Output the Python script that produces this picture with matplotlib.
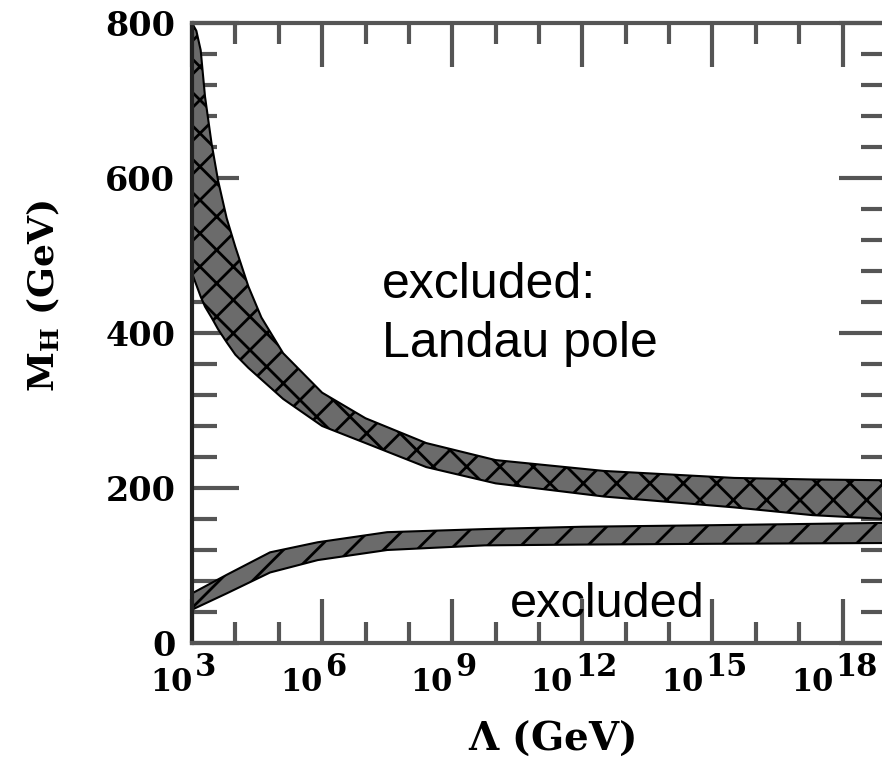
import numpy as np
import matplotlib
matplotlib.use('Agg')
import matplotlib.pyplot as plt

# log10(Lambda / GeV) grid and band edges (GeV)
lam_pole = [3.0, 3.1, 3.2, 3.3, 3.45, 3.6, 3.8, 4.0, 4.3, 4.6, 5.1, 6.0, 7.0, 8.4, 10.0, 12.5, 15.5, 17.3, 19.0]
pole_hi = [800, 790, 765, 705, 645, 597, 548, 511, 460, 420, 374, 323, 290, 258, 236, 222, 213, 211, 210]
pole_lo = [477, 462, 447, 434, 420, 405, 388, 372, 355, 340, 315, 280, 258, 227, 206, 189, 175, 165, 160]

lam_vac = [3.0, 3.8, 4.8, 5.9, 7.5, 9.75, 12.0, 15.0, 19.0]
vac_hi = [64, 88, 117, 130, 143, 147, 150, 152, 155]
vac_lo = [43, 64, 91, 107, 120, 126, 127, 128, 129]

major_exp = [3, 6, 9, 12, 15, 18]
y_major = [0, 200, 400, 600, 800]

plt.rcParams['font.family'] = ['DejaVu Serif']
plt.rcParams['mathtext.fontset'] = 'dejavuserif'
plt.rcParams['hatch.linewidth'] = 2.0

fig = plt.figure(figsize=(8.82, 7.63), dpi=100)
ax = fig.add_axes([192 / 882, 120 / 763, 694 / 882, 620 / 763])

ax.fill_between(10.0 ** np.array(lam_pole), pole_lo, pole_hi, facecolor='#6b6b6b',
                edgecolor='black', hatch='x', linewidth=1.5, zorder=2)
ax.fill_between(10.0 ** np.array(lam_vac), vac_lo, vac_hi, facecolor='#6b6b6b',
                edgecolor='black', hatch='/', linewidth=1.5, zorder=2)

ax.set_xscale('log')
ax.set_xlim(1e3, 1e19)
ax.set_ylim(0, 800)

ax.set_xticks([10.0 ** k for k in major_exp])
ax.set_xticks([10.0 ** k for k in range(4, 19) if k % 3], minor=True)
ax.set_xticklabels([])
ax.set_xticklabels([], minor=True)
ax.set_yticks(y_major)
ax.set_yticks(np.arange(0, 801, 40), minor=True)
ax.set_yticklabels([str(v) for v in y_major], fontsize=24, fontweight='bold')

ax.tick_params(which='both', direction='in', top=True, right=True, color='#555555', width=3)
ax.tick_params(axis='x', which='major', length=32, pad=12)
ax.tick_params(axis='x', which='minor', length=15)
ax.tick_params(axis='y', which='major', length=34, pad=12)
ax.tick_params(axis='y', which='minor', length=18)
for sp in ax.spines.values():
    sp.set_color('#555555')
    sp.set_linewidth(3)
ax.spines['left'].set_color('#222222')

# x tick labels: "10" with a full-size exponent
digit = 22 * 0.66  # points per digit
gap = 1.5
for k in major_exp:
    e = str(k)
    total = 2 * digit + gap + len(e) * digit
    left = -6 - total / 2
    ax.annotate('10', xy=(10.0 ** k, 0), xycoords=('data', 'axes fraction'),
                xytext=(left + 2 * digit, -17), textcoords='offset points',
                ha='right', va='top', fontsize=22, fontweight='bold')
    ax.annotate(e, xy=(10.0 ** k, 0), xycoords=('data', 'axes fraction'),
                xytext=(left + 2 * digit + gap, -6.5), textcoords='offset points',
                ha='left', va='top', fontsize=22, fontweight='bold')

fig.text(43 / 882, 1 - 296 / 763, r'$\mathbf{M}_\mathbf{H}$ (GeV)', rotation=90,
         ha='center', va='center', fontsize=26, fontweight='bold')
fig.text(552 / 882, 1 - 738 / 763, r'$\mathbf{\Lambda}$ (GeV)',
         ha='center', va='center', fontsize=28, fontweight='bold')

ax.text(10 ** 7.38, 445, 'excluded:', family='Liberation Sans', fontsize=36, va='baseline', zorder=5)
ax.text(10 ** 7.38, 369, 'Landau pole', family='Liberation Sans', fontsize=36, va='baseline', zorder=5)
ax.text(10 ** 10.33, 33.5, 'excluded', family='Liberation Sans', fontsize=35, va='baseline', zorder=5)

fig.savefig('out.png', dpi=100)
